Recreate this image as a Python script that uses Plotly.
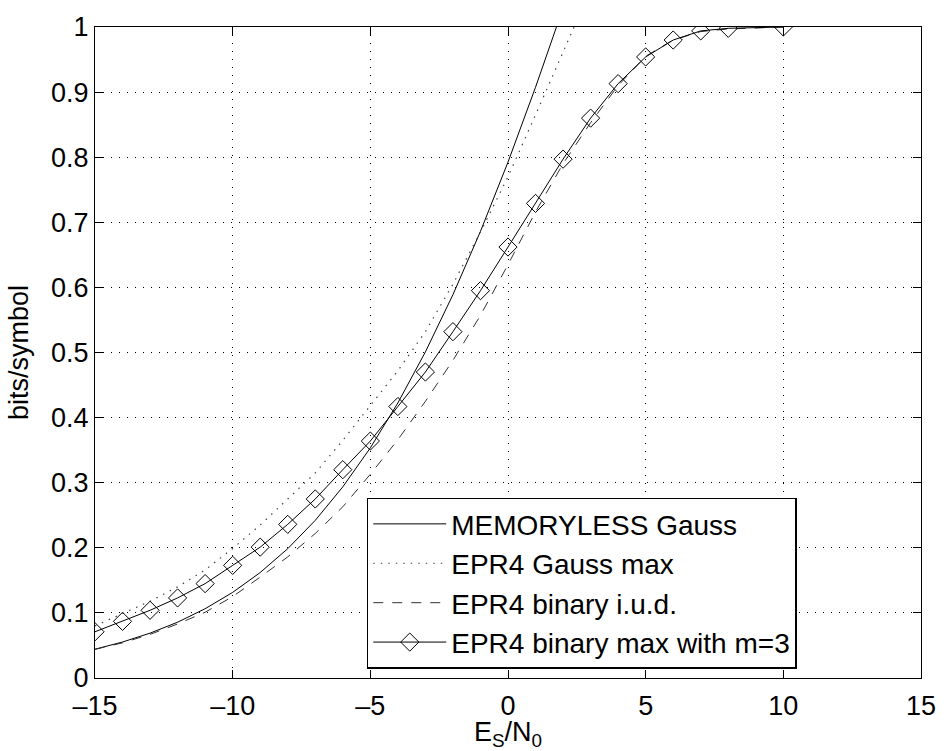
import plotly.graph_objects as go

# ---- data ----
mem_x = [-15, -14, -13, -12, -11, -10, -9, -8, -7, -6, -5, -4, -3, -2, -1, 0, 1, 1.76]
mem_y = [0.0442, 0.0553, 0.0689, 0.0857, 0.1064, 0.1315, 0.1620, 0.1986, 0.2422, 0.2936,
         0.3535, 0.4225, 0.5009, 0.5888, 0.6861, 0.7925, 0.9074, 1.0]

gmax_x = [-15, -14, -13, -12, -11, -10, -9, -8, -7, -6, -5, -4, -3, -2, -1, 0, 1, 2, 2.4]
gmax_y = [0.080, 0.099, 0.118, 0.140, 0.166, 0.199, 0.235, 0.275, 0.315, 0.365,
          0.418, 0.472, 0.532, 0.605, 0.685, 0.770, 0.865, 0.960, 1.0]

iud_x = [-15, -14, -13, -12, -11, -10, -9, -8, -7, -6, -5, -4, -3, -2, -1, 0, 1, 2, 3, 4, 5, 6, 7, 8, 10]
iud_y = [0.044, 0.054, 0.067, 0.083, 0.101, 0.125, 0.155, 0.186, 0.222, 0.263,
         0.313, 0.366, 0.425, 0.488, 0.557, 0.635, 0.716, 0.790, 0.853, 0.910,
         0.955, 0.980, 0.993, 0.997, 1.0]

m3_x = [-15, -14, -13, -12, -11, -10, -9, -8, -7, -6, -5, -4, -3, -2, -1, 0, 1, 2, 3, 4, 5, 6, 7, 8, 10]
m3_y = [0.071, 0.087, 0.104, 0.123, 0.145, 0.173, 0.201, 0.236, 0.275, 0.320,
        0.364, 0.417, 0.470, 0.532, 0.595, 0.662, 0.729, 0.797, 0.860, 0.913,
        0.954, 0.980, 0.994, 0.998, 1.0]

names = ["MEMORYLESS Gauss", "EPR4 Gauss max", "EPR4 binary i.u.d.", "EPR4 binary max with m=3"]

x_tickvals = [-15, -10, -5, 0, 5, 10, 15]
x_ticktext = ["\u201315", "\u201310", "\u20135", "0", "5", "10", "15"]
y_tickvals = [0, 0.1, 0.2, 0.3, 0.4, 0.5, 0.6, 0.7, 0.8, 0.9, 1]
y_ticktext = ["0", "0.1", "0.2", "0.3", "0.4", "0.5", "0.6", "0.7", "0.8", "0.9", "1"]

FONT = "Liberation Sans, Arial, Helvetica, sans-serif"
FS = 27

fig = go.Figure()
fig.add_trace(go.Scatter(x=mem_x, y=mem_y, mode="lines", name=names[0],
                         line=dict(color="black", width=1)))
fig.add_trace(go.Scatter(x=gmax_x, y=gmax_y, mode="lines", name=names[1],
                         line=dict(color="#444444", width=1.2, dash="1.5px,6px")))
fig.add_trace(go.Scatter(x=iud_x, y=iud_y, mode="lines", name=names[2],
                         line=dict(color="#333333", width=1, dash="10px,9px")))
fig.add_trace(go.Scatter(x=m3_x, y=m3_y, mode="lines+markers", name=names[3],
                         line=dict(color="black", width=1),
                         marker=dict(symbol="diamond-open", size=14, color="black",
                                     line=dict(width=1, color="black"))))

axis_common = dict(
    showline=True, linecolor="black", linewidth=1.3, mirror="ticks",
    ticks="inside", ticklen=8, tickcolor="black", tickwidth=1,
    showgrid=True, gridcolor="black", gridwidth=1, griddash="1px,7px",
    zeroline=False, tickfont=dict(family=FONT, size=FS, color="black"),
)

fig.update_xaxes(range=[-15, 15], tickvals=x_tickvals, ticktext=x_ticktext,
                 ticklabelstandoff=3,
                 title=dict(text="E<sub>S</sub>/N<sub>0</sub>",
                            font=dict(family=FONT, size=27, color="black"), standoff=0),
                 **axis_common)
fig.update_yaxes(range=[0, 1], tickvals=y_tickvals, ticktext=y_ticktext,
                 title=dict(text="bits/symbol",
                            font=dict(family=FONT, size=27, color="black"), standoff=14),
                 **axis_common)

fig.update_layout(
    width=948, height=751,
    margin=dict(l=95, r=20, t=21, b=73),
    paper_bgcolor="white", plot_bgcolor="white",
    font=dict(family=FONT, size=FS, color="black"),
    showlegend=True,
    legend=dict(x=0.329, y=0.277, xanchor="left", yanchor="top",
                bgcolor="white", bordercolor="black", borderwidth=1.5,
                font=dict(family=FONT, size=28, color="black"),
                itemwidth=73, tracegroupgap=0),
)

fig.write_html("out.html")
